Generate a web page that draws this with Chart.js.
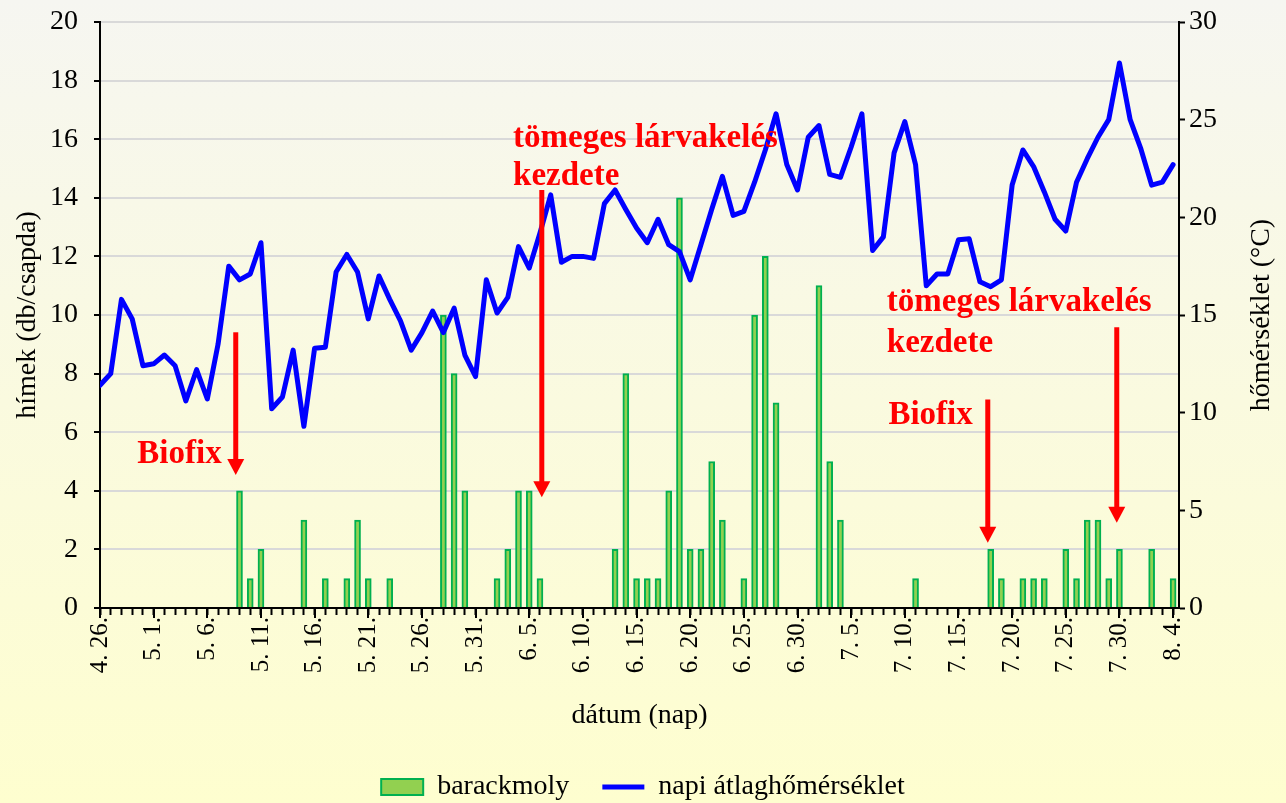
<!DOCTYPE html>
<html><head><meta charset="utf-8">
<script src="https://cdn.jsdelivr.net/npm/chart.js@4.4.1/dist/chart.umd.min.js"></script>
<style>
html,body{margin:0;padding:0;}
body{width:1286px;height:803px;overflow:hidden;background:linear-gradient(to bottom,#F6F6F1 0%,#FAFADF 50%,#FEFECF 100%);}
#wrap{position:relative;width:1286px;height:803px;}
</style></head><body>
<div id="wrap"><canvas id="c"></canvas></div>
<script>
// ---- categories: one per day, 4. 26. .. 8. 4.
const days = [
 '4. 26.','4. 27.','4. 28.','4. 29.','4. 30.',
 '5. 1.','5. 2.','5. 3.','5. 4.','5. 5.','5. 6.','5. 7.','5. 8.','5. 9.','5. 10.',
 '5. 11.','5. 12.','5. 13.','5. 14.','5. 15.','5. 16.','5. 17.','5. 18.','5. 19.','5. 20.',
 '5. 21.','5. 22.','5. 23.','5. 24.','5. 25.','5. 26.','5. 27.','5. 28.','5. 29.','5. 30.','5. 31.',
 '6. 1.','6. 2.','6. 3.','6. 4.','6. 5.','6. 6.','6. 7.','6. 8.','6. 9.','6. 10.',
 '6. 11.','6. 12.','6. 13.','6. 14.','6. 15.','6. 16.','6. 17.','6. 18.','6. 19.','6. 20.',
 '6. 21.','6. 22.','6. 23.','6. 24.','6. 25.','6. 26.','6. 27.','6. 28.','6. 29.','6. 30.',
 '7. 1.','7. 2.','7. 3.','7. 4.','7. 5.','7. 6.','7. 7.','7. 8.','7. 9.','7. 10.',
 '7. 11.','7. 12.','7. 13.','7. 14.','7. 15.','7. 16.','7. 17.','7. 18.','7. 19.','7. 20.',
 '7. 21.','7. 22.','7. 23.','7. 24.','7. 25.','7. 26.','7. 27.','7. 28.','7. 29.','7. 30.','7. 31.',
 '8. 1.','8. 2.','8. 3.','8. 4.'
];
// ---- series: trap catches (males / trap) per day
const catches = [
 0,0,0,0,0,0,0,0,0,0,
 0,0,0,4,1,2,0,0,0,3,
 0,1,0,1,3,1,0,1,0,0,
 0,0,10,8,4,0,0,1,2,4,
 4,1,0,0,0,0,0,0,2,8,
 1,1,1,4,14,2,2,5,3,0,
 1,10,12,7,0,0,0,11,5,3,
 0,0,0,0,0,0,1,0,0,0,
 0,0,0,2,1,0,1,1,1,0,
 2,1,3,3,1,2,0,0,2,0,
 1
];
// ---- series: daily mean temperature (°C)
const temps = [
 11.4,12.0,15.8,14.8,12.4,12.5,12.95,12.4,10.6,12.2,
 10.7,13.5,17.5,16.8,17.1,18.7,10.2,10.8,13.2,9.3,
 13.3,13.35,17.2,18.1,17.2,14.8,17.0,15.8,14.7,13.2,
 14.1,15.2,14.1,15.35,12.95,11.85,16.8,15.1,15.9,18.5,
 17.4,19.2,21.15,17.7,18.0,18.0,17.9,20.7,21.4,20.4,
 19.45,18.7,19.9,18.6,18.25,16.8,18.6,20.4,22.1,20.1,
 20.3,21.8,23.45,25.3,22.7,21.4,24.1,24.7,22.2,22.05,
 23.6,25.3,18.3,19.0,23.3,24.9,22.7,16.5,17.1,17.1,
 18.85,18.9,16.7,16.45,16.8,21.65,23.45,22.6,21.3,19.9,
 19.3,21.8,23.0,24.1,25.0,27.9,25.0,23.5,21.65,21.8,
 22.7
];
// ---- tick labels
const leftTicks = [0,2,4,6,8,10,12,14,16,18,20];
const rightTicks = [0,5,10,15,20,25,30];
const labelEvery = 5;
// ---- annotations (in day index / left-axis units)
const noteLines = [['Biofix'], ['tömeges lárvakelés','kezdete'], ['Biofix'], ['tömeges lárvakelés','kezdete']];
const noteDay = [11.34, 38.49, 73.47, 73.32];
const noteAlign = ['right','left','left','left'];
const noteLevel = [[4.96],[15.74,14.44],[6.28],[10.12,8.75]];
const arrowDay = [12.65, 41.17, 82.73, 94.75];
const arrowFrom = [9.41, 14.27, 7.12, 9.58];
const arrowTo = [4.54, 3.78, 2.23, 2.91];

const SERIF = "'Liberation Serif','Times New Roman',serif";
const RED = '#FF0000';

const barData = catches.map((v,i)=>({x:i, y: v===0 ? null : v}));
const lineData = temps.map((v,i)=>({x:i, y:v}));

const annotPlugin = {
  id:'annot',
  afterDatasetsDraw(chart){
    const {ctx, scales:{x,y}} = chart;
    ctx.save();
    ctx.fillStyle = RED; ctx.strokeStyle = RED;
    for (let k=0;k<arrowDay.length;k++){
      const px = x.getPixelForValue(arrowDay[k]);
      const y0 = y.getPixelForValue(arrowFrom[k]);
      const y1 = y.getPixelForValue(arrowTo[k]);
      const head = 16, hw = 8.5;
      ctx.lineWidth = 5;
      ctx.beginPath(); ctx.moveTo(px,y0); ctx.lineTo(px,y1-head+1); ctx.stroke();
      ctx.beginPath(); ctx.moveTo(px-hw,y1-head); ctx.lineTo(px+hw,y1-head); ctx.lineTo(px,y1); ctx.closePath(); ctx.fill();
    }
    ctx.font = "bold 33px " + SERIF;
    ctx.textBaseline = 'alphabetic';
    for (let k=0;k<noteLines.length;k++){
      ctx.textAlign = noteAlign[k];
      const px = x.getPixelForValue(noteDay[k]);
      noteLines[k].forEach((t,j)=>{ ctx.fillText(t, px, y.getPixelForValue(noteLevel[k][j])); });
    }
    ctx.restore();
  },
  afterDraw(chart){
    const {ctx, scales:{x,y1}, chartArea} = chart;
    ctx.save();
    // longer tick marks at labelled days
    ctx.strokeStyle = '#000'; ctx.lineWidth = 2;
    for (let i=0;i<days.length;i+=labelEvery){
      const px = Math.round(x.getPixelForValue(i));
      ctx.beginPath(); ctx.moveTo(px, chartArea.bottom); ctx.lineTo(px, chartArea.bottom+10); ctx.stroke();
    }
    // right axis title, reading bottom-to-top
    ctx.fillStyle = '#000';
    ctx.font = "28px " + SERIF;
    ctx.textAlign = 'center'; ctx.textBaseline = 'middle';
    ctx.translate(y1.right - 24, (chartArea.top+chartArea.bottom)/2);
    ctx.rotate(-Math.PI/2);
    ctx.fillText('hőmérséklet (°C)', 0, 0);
    ctx.restore();
  }
};

new Chart(document.getElementById('c'), {
  type:'bar',
  data:{
    datasets:[
      {label:'barackmoly', data:barData, yAxisID:'y', order:1,
       backgroundColor:'#92D050', borderColor:'#00B050',
       borderWidth:2, borderSkipped:'start',
       barThickness:6, pointStyle:'rect'},
      {type:'line', label:'napi átlaghőmérséklet', data:lineData, yAxisID:'y1', order:0,
       borderColor:'#0000FF', backgroundColor:'#0000FF', borderWidth:5, pointRadius:0,
       tension:0, fill:false, pointStyle:'line', borderJoinStyle:'round', borderCapStyle:'round'}
    ]
  },
  options:{
    responsive:true, maintainAspectRatio:false, animation:false,
    layout:{padding:{top:22,left:0,right:0,bottom:-8}},
    plugins:{
      tooltip:{enabled:false},
      legend:{position:'bottom',
        labels:{usePointStyle:true, pointStyleWidth:42, boxHeight:16, padding:33,
          color:'#000', font:{family:SERIF, size:28},
          sort:(a,b)=>a.datasetIndex-b.datasetIndex}}
    },
    scales:{
      x:{type:'linear', min:0, max:100.55, offset:false,
        afterFit:(s)=>{s.height=132;},
        ticks:{stepSize:1, autoSkip:false, includeBounds:false, minRotation:90, maxRotation:90,
          padding:2, color:'#000', font:{family:SERIF, size:25},
          callback:(v)=> (Number.isInteger(v) && v % labelEvery === 0) ? days[v] : ''},
        grid:{drawOnChartArea:false, drawTicks:true, tickLength:7, tickWidth:2, tickColor:'#000', offset:false},
        border:{color:'#000', width:2},
        title:{display:true, text:'dátum (nap)', color:'#000', font:{family:SERIF, size:28}, padding:{top:0,bottom:8}}
      },
      y:{position:'left', min:0, max:20,
        afterFit:(s)=>{s.width=100; s.paddingTop=0; s.paddingBottom=0;},
        afterBuildTicks:(s)=>{s.ticks = leftTicks.map(v=>({value:v}));},
        ticks:{color:'#000', padding:16, font:{family:SERIF, size:28}},
        grid:{color:'#D9D9D9', lineWidth:2, tickColor:'#000', tickWidth:2, tickLength:6},
        border:{color:'#000', width:2},
        title:{display:true, text:'hímek (db/csapda)', color:'#000', font:{family:SERIF, size:28}, padding:{top:11,bottom:0}}
      },
      y1:{position:'right', min:0, max:30,
        afterFit:(s)=>{s.width=107; s.paddingTop=0; s.paddingBottom=0;},
        afterBuildTicks:(s)=>{s.ticks = rightTicks.map(v=>({value:v}));},
        ticks:{color:'#000', padding:4, font:{family:SERIF, size:28}},
        grid:{drawOnChartArea:false, tickColor:'#000', tickWidth:2, tickLength:6},
        border:{color:'#000', width:2},
        title:{display:false}
      }
    }
  },
  plugins:[annotPlugin]
});
</script>
</body></html>
